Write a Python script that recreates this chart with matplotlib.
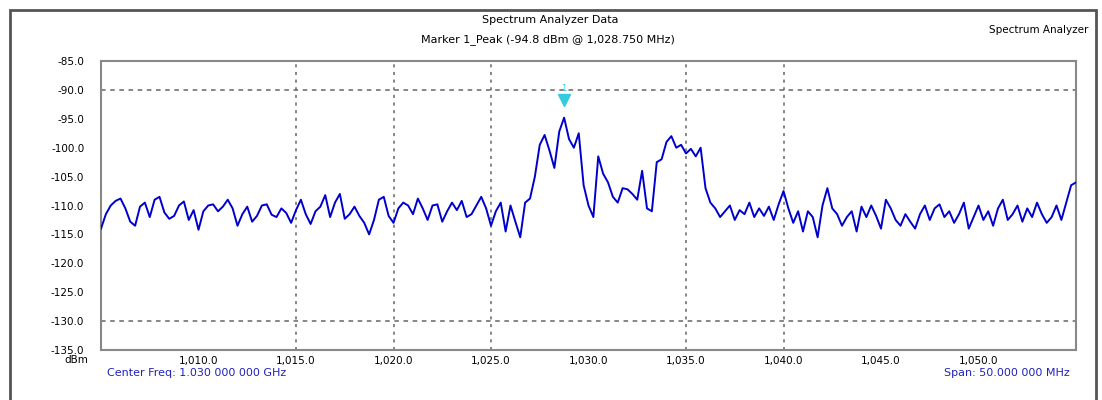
import matplotlib
matplotlib.use("Agg")
import matplotlib.pyplot as plt
import numpy as np
from matplotlib.patches import Rectangle

# trace, 0.25 MHz steps from 1005 to 1055 MHz
freq_start = 1005.0
freq_step = 0.25
level_dbm = [
    -114.0, -111.5, -110.0, -109.2,
    -108.8, -110.5, -112.8, -113.5,
    -110.2, -109.5, -112.0, -109.0,
    -108.5, -111.2, -112.3, -111.8,
    -110.0, -109.3, -112.5, -110.8,
    -114.2, -111.0, -110.0, -109.8,
    -111.0, -110.2, -109.0, -110.5,
    -113.5, -111.5, -110.2, -112.8,
    -111.8, -110.0, -109.8, -111.6,
    -112.0, -110.5, -111.3, -113.0,
    -110.8, -109.0, -111.5, -113.2,
    -111.0, -110.2, -108.2, -112.0,
    -109.5, -108.0, -112.3, -111.5,
    -110.2, -111.8, -113.0, -115.0,
    -112.5, -109.0, -108.5, -111.8,
    -113.0, -110.5, -109.5, -110.0,
    -111.5, -108.8, -110.5, -112.5,
    -110.0, -109.8, -112.8, -111.0,
    -109.5, -110.8, -109.2, -112.0,
    -111.5, -110.0, -108.5, -110.5,
    -113.5, -111.0, -109.5, -114.5,
    -110.0, -112.8, -115.5, -109.5,
    -108.8, -105.0, -99.5, -97.8,
    -100.5, -103.5, -97.2, -94.8,
    -98.5, -100.0, -97.5, -106.5,
    -110.0, -112.0, -101.5, -104.5,
    -106.0, -108.5, -109.5, -107.0,
    -107.2, -108.0, -109.0, -104.0,
    -110.5, -111.0, -102.5, -102.0,
    -99.0, -98.0, -100.0, -99.5,
    -101.0, -100.2, -101.5, -100.0,
    -107.0, -109.5, -110.5, -112.0,
    -111.0, -110.0, -112.5, -110.8,
    -111.5, -109.5, -112.0, -110.5,
    -111.8, -110.2, -112.5, -109.8,
    -107.5, -110.5, -113.0, -111.0,
    -114.5, -111.0, -112.0, -115.5,
    -110.0, -107.0, -110.5, -111.5,
    -113.5, -112.0, -111.0, -114.5,
    -110.2, -112.0, -110.0, -111.8,
    -114.0, -109.0, -110.5, -112.5,
    -113.5, -111.5, -112.8, -114.0,
    -111.5, -110.0, -112.5, -110.5,
    -109.8, -112.0, -111.0, -113.0,
    -111.5, -109.5, -114.0, -112.0,
    -110.0, -112.5, -111.0, -113.5,
    -110.5, -109.0, -112.5, -111.5,
    -110.0, -112.8, -110.5, -112.0,
    -109.5, -111.5, -113.0, -112.0,
    -110.0, -112.5, -109.5, -106.5,
    -106.0,
]
freqs = freq_start + freq_step * np.arange(len(level_dbm))

y_ticks = [-85, -90, -95, -100, -105, -110, -115, -120, -125, -130, -135]
x_ticks = [1010, 1015, 1020, 1025, 1030, 1035, 1040, 1045, 1050]
grid_x = [1015, 1020, 1025, 1035, 1040]
grid_y = [-90, -130]

peak_i = int(np.argmax(level_dbm))

W, H = 1102, 400
fig = plt.figure(figsize=(W / 100, H / 100), dpi=100)
fig.patch.set_facecolor("white")

# outer frame of the screenshot
fig.patches.append(Rectangle((10 / W, -0.05), 1086 / W, 1 - 10 / H + 0.05,
                             transform=fig.transFigure, fill=False,
                             edgecolor="#555555", lw=2))

ax = fig.add_axes([101 / W, 1 - 350 / H, 975 / W, 289 / H])
ax.set_xlim(1005, 1055)
ax.set_ylim(-135, -85)

for gx in grid_x:
    ax.axvline(gx, color="#666666", ls=(0, (2, 3)), lw=1.1, zorder=1)
for gy in grid_y:
    ax.axhline(gy, color="#666666", ls=(0, (3, 3)), lw=1.1, zorder=1)

ax.plot(freqs, level_dbm, color="#0000cc", lw=1.4, zorder=3)

# peak marker
ax.plot(freqs[peak_i], level_dbm[peak_i] + 3.0, marker="v", color="#33ccdd",
        markersize=8, zorder=4)
ax.text(freqs[peak_i], level_dbm[peak_i] + 4.2, "1", color="#33ccdd",
        ha="center", va="bottom", fontsize=6, zorder=4)

ax.set_yticks(y_ticks)
ax.set_yticklabels([f"{v:.1f}" for v in y_ticks], fontsize=7.5)
ax.set_xticks(x_ticks)
ax.set_xticklabels([f"{v:,.1f}" for v in x_ticks], fontsize=7.5)
ax.tick_params(length=0, pad=4)
ax.tick_params(axis="y", pad=12)
for s in ax.spines.values():
    s.set_color("#888888")
    s.set_linewidth(1.5)

fig.text(550 / W, 1 - 20 / H, "Spectrum Analyzer Data", ha="center", va="center",
         fontsize=8)
fig.text(548 / W, 1 - 40 / H, "Marker 1_Peak (-94.8 dBm @ 1,028.750 MHz)",
         ha="center", va="center", fontsize=8)
fig.text(1088 / W, 1 - 30 / H, "Spectrum Analyzer", ha="right", va="center",
         fontsize=7.5)
fig.text(88 / W, 1 - 360 / H, "dBm", ha="right", va="center", fontsize=7.5)
fig.text(107 / W, 1 - 373 / H, "Center Freq: 1.030 000 000 GHz", ha="left",
         va="center", fontsize=8, color="#2222bb")
fig.text(1070 / W, 1 - 373 / H, "Span: 50.000 000 MHz", ha="right",
         va="center", fontsize=8, color="#2222bb")

fig.savefig("out.png", dpi=100)
